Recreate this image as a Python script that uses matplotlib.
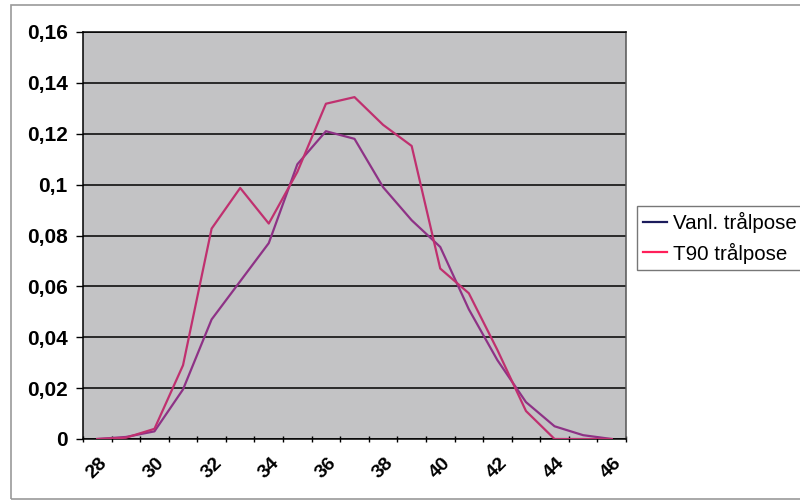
import matplotlib.pyplot as plt
import numpy as np
from matplotlib.patches import Rectangle
from matplotlib.lines import Line2D
from matplotlib.ticker import FuncFormatter, MultipleLocator

plt.rcParams['font.family'] = ['Liberation Sans', 'DejaVu Sans']

# Length classes (cm) and share of catch per class
lengths = np.arange(28, 47)
vanl = [0.0, 0.0008, 0.003, 0.0195, 0.047, 0.062, 0.077, 0.108, 0.121, 0.118,
        0.099, 0.086, 0.0755, 0.051, 0.031, 0.0145, 0.005, 0.0015, 0.0]
t90 = [0.0, 0.0005, 0.004, 0.029, 0.0827, 0.0987, 0.0847, 0.105, 0.1318, 0.1344,
       0.1235, 0.1152, 0.067, 0.0573, 0.035, 0.011, 0.0, 0.0, 0.0]
series_names = ['Vanl. trålpose', 'T90 trålpose']

fig = plt.figure(figsize=(8, 5.03), dpi=100)
W, H = 800, 503

# thin frame round the whole chart
fig.patches.append(Rectangle((11 / W, 1 - 499 / H), 1.0, 494 / H,
                             transform=fig.transFigure, fill=False,
                             edgecolor='#9a9a9a', linewidth=1.2))

ax = fig.add_axes([83 / W, 1 - 439 / H, (626 - 83) / W, (439 - 32) / H])
ax.set_facecolor('#c3c3c5')

ax.plot(lengths, vanl, color='#8e3286', linewidth=1.6, zorder=3)
ax.plot(lengths, t90, color='#c0306f', linewidth=1.6, zorder=3)

ax.set_xlim(27.5, 46.5)
ax.set_ylim(0, 0.16)

# horizontal grid
ax.yaxis.set_major_locator(MultipleLocator(0.02))
ax.yaxis.grid(True, color='black', linewidth=1.1)
ax.set_axisbelow(True)
ax.yaxis.set_major_formatter(FuncFormatter(
    lambda v, p: '0' if abs(v) < 1e-9 else f'{v:g}'.replace('.', ',')))
ax.tick_params(axis='y', length=5, width=1, pad=6, labelsize=15)
for lab in ax.get_yticklabels():
    lab.set_fontweight('bold')

# category ticks between classes, labels on every second class
ax.set_xticks(np.arange(27.5, 47, 1))
ax.set_xticklabels([])
ax.set_xticks(lengths[::2], minor=True)
ax.set_xticklabels([str(v) for v in lengths[::2]], minor=True,
                   rotation=45, ha='center', va='center',
                   fontsize=14, fontweight='bold')
ax.tick_params(axis='x', which='major', length=5, width=1, direction='inout')
ax.tick_params(axis='x', which='minor', length=0, pad=21)

for side in ['left', 'bottom', 'top']:
    ax.spines[side].set_color('black')
    ax.spines[side].set_linewidth(1.1)
ax.spines['right'].set_color('#555555')
ax.spines['right'].set_linewidth(1.1)

handles = [Line2D([], [], color='#1c1c5c', linewidth=1.6),
           Line2D([], [], color='#ff1f5a', linewidth=1.6)]
leg = fig.legend(handles, series_names, loc='upper left',
                 bbox_to_anchor=(637 / W, 1 - 206 / H),
                 bbox_transform=fig.transFigure, fontsize=14.8,
                 frameon=True, fancybox=False, handlelength=1.15,
                 handletextpad=0.3, borderpad=0.3, labelspacing=0.45,
                 borderaxespad=0)
leg.get_frame().set_edgecolor('#555555')
leg.get_frame().set_linewidth(1.0)

fig.savefig('out.png', dpi=100)
